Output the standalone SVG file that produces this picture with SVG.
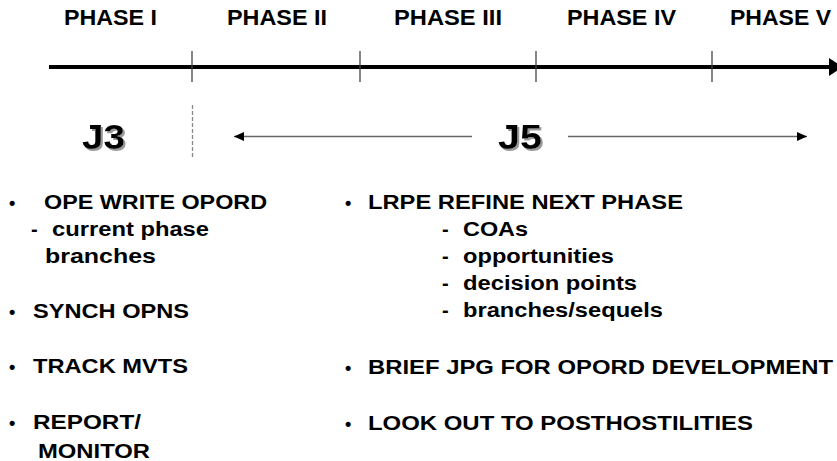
<svg xmlns="http://www.w3.org/2000/svg" width="837" height="461" viewBox="0 0 837 461">
  <style>
    text { font-family: "Liberation Sans", Arial, sans-serif; font-weight: bold; fill: #000; }
    .ph { font-size: 22px; }
    .b { font-size: 20px; }
    .dot { font-size: 18px; }
    .big { font-size: 35px; filter: url(#sh); }
    .tick { stroke: #444; stroke-width: 1.3; }
    .span { stroke: #666; stroke-width: 1.5; fill: none; }
  </style>
  <defs>
    <marker id="ah" markerWidth="10" markerHeight="9" refX="10" refY="4.5" orient="auto-start-reverse" markerUnits="userSpaceOnUse">
      <path d="M0,0 L10,4.5 L0,9 Z" fill="#000"/>
    </marker>
    <filter id="sh" x="-20%" y="-20%" width="150%" height="150%">
      <feOffset in="SourceAlpha" dx="2" dy="2" result="o"/>
      <feGaussianBlur in="o" stdDeviation="0.6" result="b"/>
      <feFlood flood-color="#999"/>
      <feComposite in2="b" operator="in" result="s"/>
      <feMerge><feMergeNode in="s"/><feMergeNode in="SourceGraphic"/></feMerge>
    </filter>
  </defs>
  <rect width="837" height="461" fill="#fff"/>

  <g id="phases">
    <text class="ph" x="64" y="25" textLength="93" lengthAdjust="spacingAndGlyphs">PHASE I</text>
    <text class="ph" x="227" y="25" textLength="100" lengthAdjust="spacingAndGlyphs">PHASE II</text>
    <text class="ph" x="394" y="25" textLength="108" lengthAdjust="spacingAndGlyphs">PHASE III</text>
    <text class="ph" x="567" y="25" textLength="109" lengthAdjust="spacingAndGlyphs">PHASE IV</text>
    <text class="ph" x="730" y="25" textLength="101" lengthAdjust="spacingAndGlyphs">PHASE V</text>
  </g>

  <g id="connectors">
    <line x1="49" y1="67" x2="831" y2="67" stroke="#000" stroke-width="4"/>
    <polygon points="829,58 843,67 829,76" fill="#000"/>
    <line class="tick" x1="192" y1="51" x2="192" y2="82"/>
    <line class="tick" x1="360" y1="51" x2="360" y2="82"/>
    <line class="tick" x1="536" y1="51" x2="536" y2="82"/>
    <line class="tick" x1="712" y1="51" x2="712" y2="82"/>
    <line x1="192.5" y1="105" x2="192.5" y2="158" stroke="#888" stroke-width="1.3" stroke-dasharray="4,2"/>
    <line class="span" x1="234" y1="136.5" x2="472" y2="136.5" marker-start="url(#ah)"/>
    <line class="span" x1="568" y1="136.5" x2="807" y2="136.5" marker-end="url(#ah)"/>
  </g>

  <g id="j3">
    <text class="big" x="82" y="148.5" textLength="43" lengthAdjust="spacingAndGlyphs">J3</text>
  </g>

  <g id="j5">
    <text class="big" x="498" y="148.5" textLength="44" lengthAdjust="spacingAndGlyphs">J5</text>
  </g>

  <g id="j3-tasks">
    <text class="dot" x="9" y="208.5">•</text>
    <text class="b" x="44" y="209" textLength="223" lengthAdjust="spacingAndGlyphs">OPE WRITE OPORD</text>
    <text class="b" x="31" y="236">-</text>
    <text class="b" x="52" y="236" textLength="157" lengthAdjust="spacingAndGlyphs">current phase</text>
    <text class="b" x="45" y="263" textLength="111" lengthAdjust="spacingAndGlyphs">branches</text>
    <text class="dot" x="9" y="317.5">•</text>
    <text class="b" x="33" y="318" textLength="156" lengthAdjust="spacingAndGlyphs">SYNCH OPNS</text>
    <text class="dot" x="9" y="372.5">•</text>
    <text class="b" x="33" y="373" textLength="155" lengthAdjust="spacingAndGlyphs">TRACK MVTS</text>
    <text class="dot" x="9" y="428.5">•</text>
    <text class="b" x="33" y="429" textLength="108" lengthAdjust="spacingAndGlyphs">REPORT/</text>
    <text class="b" x="38" y="458" textLength="112" lengthAdjust="spacingAndGlyphs">MONITOR</text>
  </g>

  <g id="j5-tasks">
    <text class="dot" x="345" y="208.5">•</text>
    <text class="b" x="368" y="209" textLength="315" lengthAdjust="spacingAndGlyphs">LRPE REFINE NEXT PHASE</text>
    <text class="b" x="442" y="236">-</text>
    <text class="b" x="463" y="236" textLength="65" lengthAdjust="spacingAndGlyphs">COAs</text>
    <text class="b" x="442" y="263">-</text>
    <text class="b" x="463" y="263" textLength="151" lengthAdjust="spacingAndGlyphs">opportunities</text>
    <text class="b" x="442" y="290">-</text>
    <text class="b" x="463" y="290" textLength="174" lengthAdjust="spacingAndGlyphs">decision points</text>
    <text class="b" x="442" y="317">-</text>
    <text class="b" x="463" y="317" textLength="200" lengthAdjust="spacingAndGlyphs">branches/sequels</text>
    <text class="dot" x="345" y="373.5">•</text>
    <text class="b" x="368" y="374" textLength="465" lengthAdjust="spacingAndGlyphs">BRIEF JPG FOR OPORD DEVELOPMENT</text>
    <text class="dot" x="345" y="429.5">•</text>
    <text class="b" x="368" y="430" textLength="385" lengthAdjust="spacingAndGlyphs">LOOK OUT TO POSTHOSTILITIES</text>
  </g>
</svg>
